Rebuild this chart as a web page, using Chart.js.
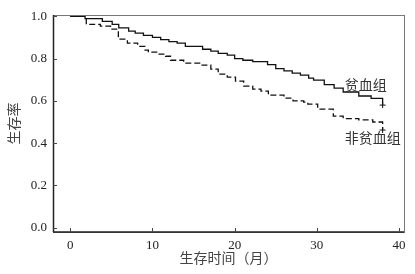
<!DOCTYPE html>
<html>
<head>
<meta charset="utf-8">
<script src="https://cdn.jsdelivr.net/npm/chart.js@4"></script>
<style>
  html, body { margin: 0; padding: 0; background: #fff; }
  #wrap { width: 415px; height: 274px; }
</style>
</head>
<body>
<div id="wrap"><canvas id="km"></canvas></div>
<script>
    // 贫血组 (solid)
    const anemiaMonths = [0, 1.8, 3.9, 5.1, 5.9, 7.1, 7.9, 8.9, 10, 11, 12, 13, 14, 16.1, 17.1, 18, 19.1, 20, 21, 22.2, 24, 25, 26, 27, 28, 29, 29.6, 30.9, 32.1, 33.2, 35.1, 36.6, 38];
    const anemiaSurvival = [1.0, 0.989, 0.976, 0.962, 0.945, 0.93, 0.92, 0.91, 0.90, 0.89, 0.88, 0.873, 0.858, 0.844, 0.835, 0.825, 0.816, 0.80, 0.792, 0.786, 0.771, 0.752, 0.742, 0.731, 0.722, 0.708, 0.698, 0.677, 0.66, 0.642, 0.623, 0.612, 0.58];

    // 非贫血组 (dashed)
    const nonAnemiaMonths = [0, 1.95, 3.66, 4.9, 5.85, 6.95, 8.2, 9.1, 9.5, 10.6, 11.6, 12.2, 13.8, 15.9, 17.1, 18, 19.1, 20.1, 21.1, 22.2, 23.2, 24.1, 26, 27.1, 28.4, 28.9, 30.1, 32, 33.2, 35.1, 36.8, 38];
    const nonAnemiaSurvival = [1.0, 0.962, 0.953, 0.939, 0.892, 0.873, 0.858, 0.84, 0.83, 0.821, 0.811, 0.792, 0.778, 0.769, 0.75, 0.726, 0.712, 0.693, 0.67, 0.656, 0.646, 0.627, 0.613, 0.60, 0.594, 0.585, 0.561, 0.528, 0.516, 0.51, 0.50, 0.462];

    const xTicks = [0, 10, 20, 30, 40];
    const yTicks = [0.0, 0.2, 0.4, 0.6, 0.8, 1.0];
    const groupLabels = ['贫血组', '非贫血组'];

    const serif = '"Liberation Serif", "DejaVu Serif", serif';
    const cjk = '"Noto Sans CJK SC", sans-serif';

    function toPoints(xs, ys) {
        return xs.map(function (x, i) { return { x: x, y: ys[i] }; });
    }

    function lastOnly(n, r) {
        return Array.from({ length: n }, function (_, i) { return i === n - 1 ? r : 0; });
    }

    // frame, inward ticks and group labels
    const framePlugin = {
        id: 'frame',
        afterDraw: function (chart) {
            const ctx = chart.ctx;
            const a = chart.chartArea;
            const xs = chart.scales.x;
            const ys = chart.scales.y;
            ctx.save();
            ctx.strokeStyle = '#777';
            ctx.lineWidth = 1;
            ctx.strokeRect(a.left + 0.5, a.top + 0.5, a.right - a.left, a.bottom - a.top);
            ctx.strokeStyle = '#222';
            ctx.lineWidth = 1.5;
            ctx.beginPath();
            ctx.moveTo(a.left, a.bottom);
            ctx.lineTo(a.right, a.bottom);
            ctx.moveTo(a.left + 0.5, a.top);
            ctx.lineTo(a.left + 0.5, a.bottom);
            ctx.stroke();
            ctx.lineWidth = 1;
            ctx.strokeStyle = '#444';
            ctx.beginPath();
            xTicks.forEach(function (v) {
                const px = Math.round(xs.getPixelForValue(v)) + 0.5;
                ctx.moveTo(px, a.bottom);
                ctx.lineTo(px, a.bottom - 4);
            });
            yTicks.forEach(function (v) {
                const py = Math.round(ys.getPixelForValue(v)) + 0.5;
                ctx.moveTo(a.left, py);
                ctx.lineTo(a.left + 4, py);
            });
            ctx.stroke();

            ctx.fillStyle = '#333';
            ctx.font = '14px ' + cjk;
            ctx.textBaseline = 'middle';
            ctx.textAlign = 'left';
            ctx.fillText(groupLabels[0], xs.getPixelForValue(33.4), ys.getPixelForValue(0.675));
            ctx.fillText(groupLabels[1], xs.getPixelForValue(33.4), ys.getPixelForValue(0.425));
            ctx.restore();
        }
    };

    new Chart(document.getElementById('km').getContext('2d'), {
        type: 'line',
        data: {
            datasets: [
                {
                    label: groupLabels[0],
                    data: toPoints(anemiaMonths, anemiaSurvival),
                    stepped: 'before',
                    borderColor: '#111',
                    borderWidth: 1.3,
                    pointRadius: lastOnly(anemiaMonths.length, 3),
                    pointStyle: 'cross',
                    pointBorderColor: '#111',
                    pointBorderWidth: 1,
                    fill: false
                },
                {
                    label: groupLabels[1],
                    data: toPoints(nonAnemiaMonths, nonAnemiaSurvival),
                    stepped: 'before',
                    borderColor: '#111',
                    borderWidth: 1.3,
                    borderDash: [6, 3],
                    pointRadius: lastOnly(nonAnemiaMonths.length, 3),
                    pointStyle: 'cross',
                    pointBorderColor: '#111',
                    pointBorderWidth: 1,
                    fill: false
                }
            ]
        },
        options: {
            responsive: true,
            maintainAspectRatio: false,
            animation: false,
            layout: { padding: { top: 15, right: 11, left: 0, bottom: 0 } },
            plugins: {
                legend: { display: false },
                tooltip: { enabled: false }
            },
            scales: {
                x: {
                    type: 'linear',
                    min: -2.1,
                    max: 40.6,
                    grid: { display: false, drawTicks: false },
                    border: { display: false },
                    ticks: {
                        stepSize: 10,
                        includeBounds: false,
                        padding: 6,
                        color: '#222',
                        font: { family: serif, size: 13 },
                        maxRotation: 0
                    },
                    title: {
                        display: true,
                        text: '生存时间（月）',
                        color: '#444',
                        font: { family: cjk, size: 14 },
                        padding: { top: 0, bottom: 8 }
                    },
                    afterFit: function (scale) { scale.height = 42; }
                },
                y: {
                    type: 'linear',
                    min: -0.02,
                    max: 1.006,
                    grid: { display: false, drawTicks: false },
                    border: { display: false },
                    ticks: {
                        stepSize: 0.2,
                        includeBounds: false,
                        padding: 6,
                        color: '#222',
                        font: { family: serif, size: 13 },
                        callback: function (v) { return Number(v).toFixed(1); }
                    },
                    title: {
                        display: true,
                        text: '生存率',
                        color: '#444',
                        font: { family: cjk, size: 14 },
                        padding: { top: 5, bottom: 0 }
                    },
                    afterFit: function (scale) { scale.width = 53; }
                }
            }
        },
        plugins: [framePlugin]
    });
</script>
</body>
</html>
